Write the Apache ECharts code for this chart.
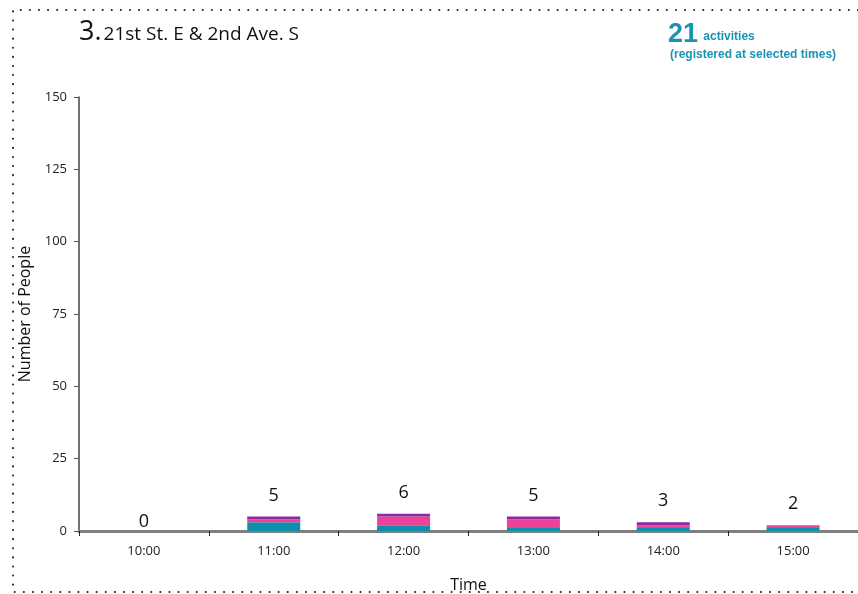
<!DOCTYPE html>
<html>
<head>
<meta charset="utf-8">
<script src="https://cdn.jsdelivr.net/npm/echarts@6/dist/echarts.min.js"></script>
<style>
  html, body { margin:0; padding:0; background:#fff; }
  #chart { width:858px; height:594px; }
</style>
</head>
<body>
<div id="chart"></div>
<script>
// data
var times = ['10:00', '11:00', '12:00', '13:00', '14:00', '15:00'];
var teal = [0, 3, 2, 1, 1, 1];
var pink = [0, 1, 3, 3, 1, 1];
var purple = [0, 1, 1, 1, 1, 0];
var totalActivities = 21;

var totals = times.map(function (t, i) { return teal[i] + pink[i] + purple[i]; });

var chart = echarts.init(document.getElementById('chart'));

var dotted = { stroke: '#222', lineWidth: 2, lineDash: [0.1, 9], lineCap: 'round' };

// zero bars get their label sitting right on the axis
var totalData = totals.map(function (v) {
    if (v === 0) return { value: v, label: { distance: 0 } };
    return v;
});

var option = {
    animation: false,
    textStyle: { fontFamily: 'Open Sans' },
    grid: { left: 79, right: 0, top: 97, bottom: 63, outerBoundsMode: 'none' },
    graphic: [
        { type: 'polyline', silent: true, shape: { points: [[858, 10], [13, 10], [13, 592], [858, 592]] }, style: dotted },
        {
            type: 'text', left: 79, top: 19,
            style: {
                text: '{a|3.}{b|21st St. E & 2nd Ave. S}',
                rich: {
                    a: { fontSize: 27, fontFamily: 'Open Sans', fill: '#111' },
                    b: { fontSize: 19, fontFamily: 'Open Sans', fill: '#111', padding: [5, 0, 0, 2] }
                }
            }
        },
        {
            type: 'text', left: 668, top: 21,
            style: {
                text: '{n|' + totalActivities + '}{t| activities}\n{t|(registered at selected times)}',
                rich: {
                    n: { fontSize: 27, fontWeight: 'bold', fontFamily: 'Liberation Sans', fill: '#1a93b3', lineHeight: 20 },
                    t: { fontSize: 12, fontWeight: 'bold', fontFamily: 'Liberation Sans', fill: '#1a93b3', lineHeight: 16, padding: [5, 0, 0, 2] }
                }
            }
        }
    ],
    xAxis: {
        type: 'category',
        data: times,
        name: 'Time',
        nameLocation: 'middle',
        nameGap: 46,
        nameTextStyle: { fontSize: 16, color: '#111' },
        axisLine: { lineStyle: { color: '#7f7f7f', width: 3 } },
        axisTick: { show: true, length: 5, lineStyle: { color: '#222' } },
        axisLabel: { fontSize: 13, color: '#222', margin: 14 }
    },
    yAxis: {
        type: 'value',
        min: 0, max: 150, interval: 25,
        name: 'Number of People',
        nameLocation: 'middle',
        nameGap: 46,
        nameTextStyle: { fontSize: 16, color: '#111' },
        axisLine: { show: true, lineStyle: { color: '#444', width: 1.5 } },
        axisTick: { show: true, length: 5, lineStyle: { color: '#555' } },
        axisLabel: { fontSize: 13, color: '#222', margin: 12 },
        splitLine: { show: false }
    },
    series: [
        { name: 'teal', type: 'bar', stack: 'a', data: teal, barWidth: 53, itemStyle: { color: '#0d8fab' } },
        { name: 'pink', type: 'bar', stack: 'a', data: pink, itemStyle: { color: '#ee4198' } },
        { name: 'purple', type: 'bar', stack: 'a', data: purple, itemStyle: { color: '#8c2aa3' } },
        {
            name: 'total', type: 'bar', data: totalData, barGap: '-100%', barWidth: 53,
            itemStyle: { color: 'rgba(0,0,0,0)' },
            label: { show: true, position: 'top', distance: 12, fontSize: 18, color: '#111' },
            z: 1
        }
    ]
};

chart.setOption(option);
</script>
</body>
</html>
